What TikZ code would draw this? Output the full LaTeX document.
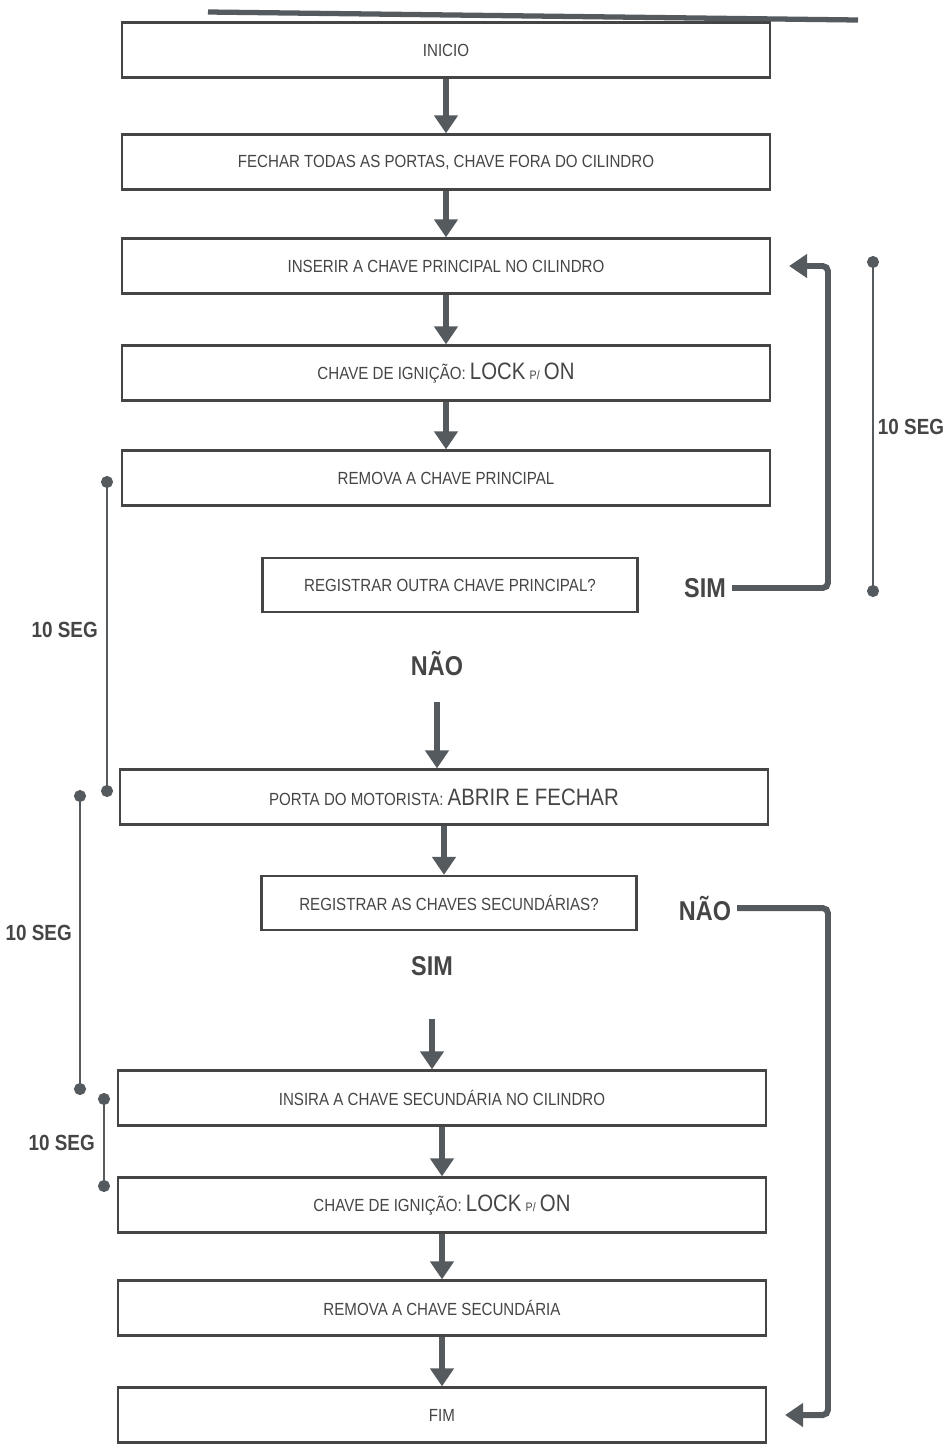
\documentclass[tikz,border=0pt]{standalone}
\usepackage{fontspec}
\setmainfont{Liberation Sans}[FakeStretch=0.86]
\usepackage{tikz}
\usetikzlibrary{arrows.meta}
\usepackage{xcolor}
\definecolor{tinta}{HTML}{454545}
\definecolor{traco}{HTML}{555A5E}

\begin{document}
\begin{tikzpicture}[x=0.02cm,y=-0.02cm,
    caixa/.style={draw=tinta,line width=1.3pt,minimum width=12.96cm,minimum height=1.1cm,
      inner sep=0pt,font=\fontsize{10}{11}\selectfont,text=tinta},
    pergunta/.style={caixa,minimum width=7.5cm,minimum height=1.08cm},
    seta/.style={draw=traco,line width=3.4pt,-{Triangle[width=0.46cm,length=0.36cm]}},
    laco/.style={seta,rounded corners=3pt},
    tempo/.style={draw=traco,line width=1.2pt,{Circle[length=0.24cm]}-{Circle[length=0.24cm]}},
    rotulo/.style={font=\fontsize{12.5}{14}\selectfont\bfseries,text=tinta},
    resposta/.style={font=\fontsize{15.5}{18}\selectfont\bfseries,text=tinta}]
  \useasboundingbox (0,0) rectangle (946,1444);
  % traco do topo
  \draw[traco,line width=3pt] (208,12) -- (858,20);
  % caixas principais
  \foreach \nome/\cx/\cy/\txt in {
    inicio/446/50/{INICIO},
    fechar/446/162/{FECHAR TODAS AS PORTAS, CHAVE FORA DO CILINDRO},
    inserir/446/266/{INSERIR A CHAVE PRINCIPAL NO CILINDRO},
    ignA/446/373/{CHAVE DE IGNIÇÃO: {\fontsize{13.5}{14}\selectfont LOCK} {\fontsize{7}{8}\selectfont P/} {\fontsize{13.5}{14}\selectfont ON}},
    removaA/446/478/{REMOVA A CHAVE PRINCIPAL},
    porta/444/797/{PORTA DO MOTORISTA: {\fontsize{13.5}{14}\selectfont ABRIR E FECHAR}},
    insira/442/1098/{INSIRA A CHAVE SECUNDÁRIA NO CILINDRO},
    ignB/442/1205/{CHAVE DE IGNIÇÃO: {\fontsize{13.5}{14}\selectfont LOCK} {\fontsize{7}{8}\selectfont P/} {\fontsize{13.5}{14}\selectfont ON}},
    removaB/442/1308/{REMOVA A CHAVE SECUNDÁRIA},
    fim/442/1415/{FIM}%
  }{
    \node[caixa] (\nome) at (\cx,\cy) {\txt};
  }
  \node[pergunta] (outra) at (450,585) {REGISTRAR OUTRA CHAVE PRINCIPAL?};
  \node[pergunta] (secund) at (449,903) {REGISTRAR AS CHAVES SECUNDÁRIAS?};
  % respostas
  \node[resposta] (simA) at (705,588) {SIM};
  \node[resposta] (naoA) at (437,664) {NÃO};
  \node[resposta] (naoB) at (705,908) {NÃO};
  \node[resposta] (simB) at (432,966) {SIM};
  % setas do fluxo
  \draw[seta] (inicio) -- (fechar);
  \draw[seta] (fechar) -- (inserir);
  \draw[seta] (inserir) -- (ignA);
  \draw[seta] (ignA) -- (removaA);
  \draw[seta,shorten <=0.4cm] (naoA.south) -- (naoA.south |- porta.north);
  \draw[seta] (porta.south) -- (porta.south |- secund.north);
  \draw[seta,shorten <=0.75cm] (simB.south) -- (simB.south |- insira.north);
  \draw[seta] (insira) -- (ignB);
  \draw[seta] (ignB) -- (removaB);
  \draw[seta] (removaB) -- (fim);
  % lacos
  \coordinate (cA) at (828,588);
  \coordinate (cB) at (828,908);
  \draw[laco,shorten >=0.36cm] (simA.east) -- (cA) |- (inserir.east);
  \draw[laco,shorten >=0.36cm] (naoB.east) -- (cB) |- (fim.east);
  % tempos
  \coordinate (r1) at (873,256);  \coordinate (r2) at (873,597);
  \coordinate (e1) at (107,476);  \coordinate (e2) at (107,797);
  \coordinate (f1) at (80,790);   \coordinate (f2) at (80,1095);
  \coordinate (g1) at (104,1093); \coordinate (g2) at (104,1192);
  \draw[tempo] (r1) -- (r2);
  \draw[tempo] (e1) -- (e2);
  \draw[tempo] (f1) -- (f2);
  \draw[tempo] (g1) -- (g2);
  \node[rotulo] (tr) at (911,427) {10 SEG};
  \node[rotulo,left] (te) at (104,630) {10 SEG};
  \node[rotulo,left] (tf) at (78,933) {10 SEG};
  \node[rotulo,left] (tg) at (101,1143) {10 SEG};
\end{tikzpicture}
\end{document}
